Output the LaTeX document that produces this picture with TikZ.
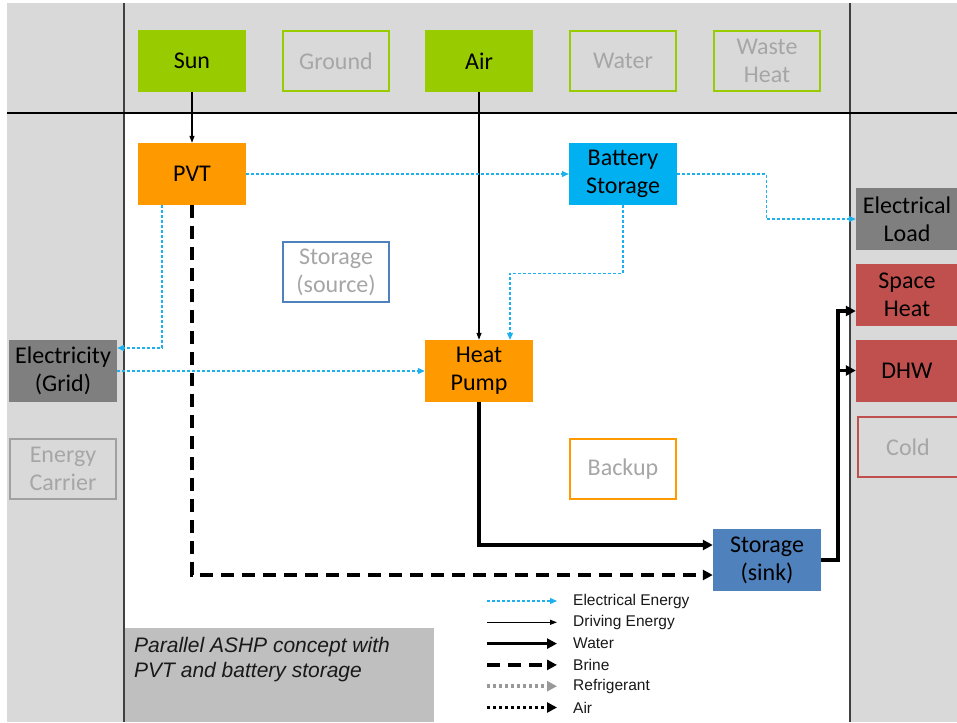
\documentclass[tikz,border=0pt]{standalone}
\usepackage{fontspec}
\setmainfont{Carlito}
\newfontfamily\arialf{Liberation Sans}
\usetikzlibrary{arrows.meta,calc}
\definecolor{bggray}{HTML}{D9D9D9}
\definecolor{capgray}{HTML}{BFBFBF}
\definecolor{lgreen}{HTML}{99CC00}
\definecolor{orng}{HTML}{FF9900}
\definecolor{cyanb}{HTML}{00B0F0}
\definecolor{steel}{HTML}{4F81BD}
\definecolor{redb}{HTML}{C0504D}
\definecolor{dgray}{HTML}{7F7F7F}
\definecolor{lgray}{HTML}{A6A6A6}
\definecolor{oline}{HTML}{A0A0A0}
\definecolor{eblue}{HTML}{1CB0EE}
\definecolor{refgray}{HTML}{999999}
\definecolor{sep}{HTML}{404040}
\tikzset{
  box/.style={minimum width=108pt, minimum height=62pt, inner sep=0pt, align=center,
    font=\fontsize{24}{28}\selectfont, text=black},
  ofill/.style={box, draw=none, fill=#1},
  oline/.style={box, draw=#1, line width=2pt, text=lgray, minimum width=106pt, minimum height=60pt},
  rwidth/.style={minimum width=102pt},
  elec/.style={draw=eblue, line width=1.1pt, dash pattern=on 3pt off 2pt, -{Triangle[length=7pt,width=6pt]}},
  drive/.style={draw=black, line width=1.1pt, -{Triangle[length=7pt,width=5pt]}},
  water/.style={draw=black, line width=3.5pt, -{Triangle[length=10pt,width=10pt]}},
  brine/.style={water, dash pattern=on 13pt off 8pt},
  refr/.style={water, draw=refgray, dash pattern=on 3pt off 3pt},
  airl/.style={water, dash pattern=on 3pt off 3pt},
  legtxt/.style={anchor=west, inner sep=0pt, font=\arialf\fontsize{15.5}{18}\selectfont, text=black!90},
}
\begin{document}
\begin{tikzpicture}[x=1pt,y=-1pt]
\useasboundingbox (0,0) rectangle (957,722);
% background
\fill[white] (0,0) rectangle (957,722);
\fill[bggray] (7,3) rectangle (957,722);
\fill[white] (124,113) rectangle (850,722);
\fill[capgray] (124,628) rectangle (434,722);
\draw[sep, line width=1.3pt] (124,3) -- (124,722);
\draw[sep, line width=1.3pt] (850,3) -- (850,722);
\draw[black, line width=1.3pt] (7,113) -- (957,113);

% top row
\node[ofill=lgreen] (sun) at (192,61) {Sun};
\node[oline=lgreen] (ground) at (336,61) {Ground};
\node[ofill=lgreen] (air) at (479,61) {Air};
\node[oline=lgreen] (water) at (623,61) {Water};
\node[oline=lgreen] (waste) at (767,61) {Waste\\Heat};

% middle
\node[ofill=orng] (pvt) at (192,174) {PVT};
\node[ofill=cyanb] (bat) at (623,174) {Battery\\Storage};
\node[oline=steel] (ssrc) at (336,272) {Storage\\(source)};
\node[ofill=orng] (hp) at (479,371) {Heat\\Pump};
\node[oline=orng] (backup) at (623,469) {Backup};
\node[ofill=steel] (sink) at (767,560) {Storage\\(sink)};

% left
\node[ofill=dgray] (grid) at (63,371) {Electricity\\(Grid)};
\node[oline=oline] (carrier) at (63,469) {Energy\\Carrier};

% right
\node[ofill=dgray, rwidth] (eload) at (907,219) {Electrical\\Load};
\node[ofill=redb, rwidth] (sh) at (907,294.5) {Space\\Heat};
\node[ofill=redb, rwidth] (dhw) at (907,370.5) {DHW};
\node[oline=redb, minimum width=100pt] (cold) at (908,447) {Cold};

% connectors
\draw[drive] (sun) -- (pvt);
\draw[drive] (air) -- (hp);
\draw[elec] (pvt) -- (bat);
\draw[elec] (bat.east) -- ++(89,0) |- (eload.west);
\draw[elec] (bat.south) -- ++(0,68) -| ([xshift=31pt]hp.north);
\draw[elec] ([xshift=-30pt]pvt.south) |- ([yshift=23pt]grid.east);
\draw[elec] (grid.east) -- (hp.west);
\draw[brine] (pvt.south) |- ([yshift=-15pt]sink.west);
\draw[water] (hp.south) |- ([yshift=15pt]sink.west);
\draw[water] (sink.east) -- ++(17,0) |- ([yshift=-16.5pt]sh.west);
\draw[water] (sink.east) -- ++(17,0) |- (dhw.west);

% legend
\foreach \i/\st/\lab in {0/elec/Electrical Energy,1/drive/Driving Energy,2/water/Water,3/brine/Brine,4/refr/Refrigerant,5/airl/Air}{
  \coordinate (ls\i) at (487,{601+21.3*\i});
  \coordinate (le\i) at (557,{601+21.3*\i});
  \draw[\st] (ls\i) -- (le\i);
  \node[legtxt] (lt\i) at (573,{601+21.3*\i}) {\lab};
}

% caption
\node[anchor=west, align=left, inner sep=0pt, font=\arialf\itshape\fontsize{21}{25}\selectfont, text=black!90] (cap) at (134,660) {Parallel ASHP concept with\\PVT and battery storage};
\end{tikzpicture}
\end{document}
